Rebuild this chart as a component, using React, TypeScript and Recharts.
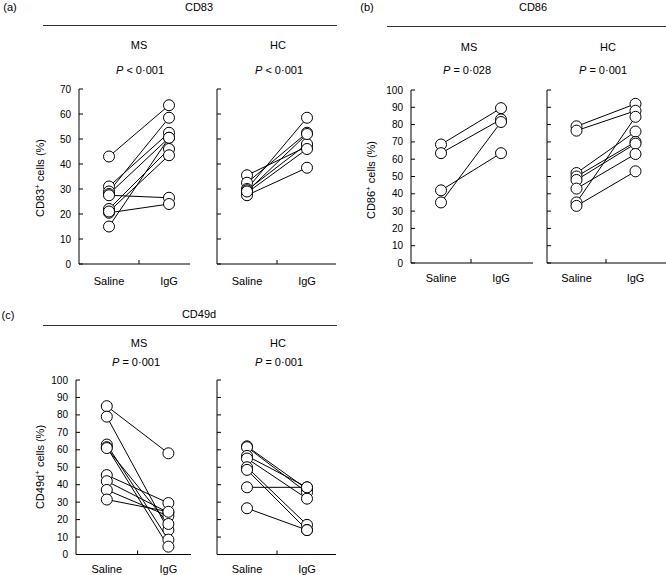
import React from 'react';
import { ComposedChart, Line, Scatter, XAxis, YAxis } from 'recharts';

const groups = ['Saline', 'IgG'];

const ticks70 = [0, 10, 20, 30, 40, 50, 60, 70];
const ticks100 = [0, 10, 20, 30, 40, 50, 60, 70, 80, 90, 100];

const cd83MsSaline = [43, 31, 29, 28, 27.5, 22, 20.5, 15, 21];
const cd83MsIgG = [63.5, 52.5, 58.5, 50.5, 26.5, 46, 24, 50.5, 43.5];

const cd83HcSaline = [35.5, 32.5, 30, 29.5, 28.5, 27.5, 29];
const cd83HcIgG = [47, 52.5, 58.5, 48, 46, 38.5, 52];

const cd86MsSaline = [68.5, 63.5, 42, 35];
const cd86MsIgG = [89.5, 83, 63.5, 81.5];

const cd86HcSaline = [79, 76.5, 52, 50, 48, 43, 35, 33];
const cd86HcIgG = [92, 88, 76, 70, 69, 63, 84.5, 53];

const cd49dMsSaline = [85, 79, 63, 61.5, 45.5, 42, 37, 31.5, 61];
const cd49dMsIgG = [58, 14, 8.5, 4.5, 29.5, 24, 22, 24.5, 17.5];

const cd49dHcSaline = [62, 61.5, 56.5, 55, 50, 48.5, 38.5, 26.5];
const cd49dHcIgG = [37.5, 35.5, 38.5, 32, 17, 14, 38.5, 14];

const FONT = '"Liberation Sans", Arial, Helvetica, sans-serif';

type PanelProps = {
  axisX: number;
  top: number;
  bottom: number;
  right: number;
  unit: number;
  yMax: number;
  yTicks: number[];
  showYLabels: boolean;
  saline: number[];
  igg: number[];
  labelDy: number;
};

const ML = 45;
const MT = 8;
const MB = 30;
const MR = 2;

function Panel(p: PanelProps) {
  const plotW = p.right - p.axisX;
  const plotH = p.bottom - p.top;
  const width = ML + plotW + MR;
  const height = MT + plotH + MB;
  const xMax = plotW / p.unit;
  const pairs = p.saline.map((s, i) => [
    { x: 1, y: s },
    { x: 3, y: p.igg[i] },
  ]);
  const allPoints = pairs.flat();

  const yTick = (props: any) => {
    const { x, y, payload } = props;
    return (
      <g>
        <line x1={x} x2={x + 4} y1={y} y2={y} stroke="#000" strokeWidth={1} />
        {p.showYLabels && (
          <text x={x - 8} y={y} textAnchor="end" dominantBaseline="central" fontSize={10} fill="#000" fontFamily={FONT}>
            {payload.value}
          </text>
        )}
      </g>
    );
  };

  const xTick = (props: any) => {
    const { x, y, payload } = props;
    if (payload.value === 2) {
      return <line x1={x} x2={x} y1={y} y2={y - 4} stroke="#000" strokeWidth={1} />;
    }
    const label = payload.value === 1 ? groups[0] : groups[1];
    return (
      <text x={x} y={y + p.labelDy} textAnchor="middle" fontSize={11} fill="#000" fontFamily={FONT}>
        {label}
      </text>
    );
  };

  return (
    <div style={{ position: 'absolute', left: p.axisX - ML, top: p.top - MT, width, height }}>
      <ComposedChart width={width} height={height} margin={{ top: MT, right: MR, bottom: 0, left: 0 }}>
        <XAxis
          type="number"
          dataKey="x"
          domain={[0, xMax]}
          ticks={[1, 2, 3]}
          interval={0}
          allowDataOverflow
          height={MB}
          tickSize={0}
          tickMargin={0}
          tickLine={false}
          axisLine={{ stroke: '#000', strokeWidth: 1 }}
          tick={xTick}
        />
        <YAxis
          type="number"
          dataKey="y"
          domain={[0, p.yMax]}
          ticks={p.yTicks}
          interval={0}
          allowDataOverflow
          width={ML}
          tickSize={0}
          tickMargin={0}
          tickLine={false}
          axisLine={{ stroke: '#000', strokeWidth: 1 }}
          tick={yTick}
        />
        {pairs.map((d, i) => (
          <Line
            key={i}
            data={d}
            dataKey="y"
            stroke="#000"
            strokeWidth={1}
            dot={false}
            activeDot={false}
            isAnimationActive={false}
          />
        ))}
        <Scatter
          data={allPoints}
          isAnimationActive={false}
          shape={(sp: any) => <circle cx={sp.cx} cy={sp.cy} r={5.5} fill="#fff" stroke="#000" strokeWidth={1} />}
        />
      </ComposedChart>
    </div>
  );
}

const txt = (x: number, y: number, content: React.ReactNode, size = 11) => (
  <div
    style={{
      position: 'absolute',
      left: x,
      top: y,
      transform: 'translate(-50%, -50%)',
      whiteSpace: 'nowrap',
      fontSize: size,
      lineHeight: 1,
      color: '#000',
    }}
  >
    {content}
  </div>
);

const hline = (x1: number, x2: number, y: number) => (
  <div style={{ position: 'absolute', left: x1, top: y, width: x2 - x1, height: 1, background: '#333' }} />
);

const ylabel = (x: number, y: number, marker: string) => (
  <div
    style={{
      position: 'absolute',
      left: x,
      top: y,
      transform: 'translate(-50%, -50%) rotate(-90deg)',
      whiteSpace: 'nowrap',
      fontSize: 11,
      lineHeight: 1,
    }}
  >
    {marker}
    <sup style={{ fontSize: 8 }}>+</sup> cells (%)
  </div>
);

const pLab = (rest: string) => (
  <span>
    <i>P</i> {rest}
  </span>
);

export default function App() {
  return (
    <div
      style={{
        position: 'absolute',
        left: 0,
        top: 0,
        width: 666,
        height: 575,
        background: '#fff',
        fontFamily: FONT,
        overflow: 'hidden',
      }}
    >
      {/* Panel (a) */}
      {txt(10, 7, '(a)')}
      {txt(199, 7, 'CD83')}
      {hline(43, 337, 25)}
      {txt(139, 45, 'MS')}
      {txt(278, 45, 'HC')}
      {txt(140, 70, pLab('< 0·001'))}
      {txt(279, 70, pLab('< 0·001'))}
      {ylabel(40, 178, 'CD83')}
      <Panel axisX={79} top={89} bottom={264} right={190} unit={30} yMax={70} yTicks={ticks70} showYLabels saline={cd83MsSaline} igg={cd83MsIgG} labelDy={21} />
      <Panel axisX={217} top={89} bottom={264} right={336} unit={30} yMax={70} yTicks={ticks70} showYLabels={false} saline={cd83HcSaline} igg={cd83HcIgG} labelDy={21} />

      {/* Panel (b) */}
      {txt(367, 7, '(b)')}
      {txt(533, 7, 'CD86')}
      {hline(387, 666, 26)}
      {txt(469, 47, 'MS')}
      {txt(608, 47, 'HC')}
      {txt(467, 70, pLab('= 0·028'))}
      {txt(603, 70, pLab('= 0·001'))}
      {ylabel(371, 180, 'CD86')}
      <Panel axisX={411} top={90} bottom={263} right={533} unit={30} yMax={100} yTicks={ticks100} showYLabels saline={cd86MsSaline} igg={cd86MsIgG} labelDy={19} />
      <Panel axisX={547} top={90} bottom={263} right={666} unit={29.5} yMax={100} yTicks={ticks100} showYLabels={false} saline={cd86HcSaline} igg={cd86HcIgG} labelDy={19} />

      {/* Panel (c) */}
      {txt(8, 315, '(c)')}
      {txt(199, 314, 'CD49d')}
      {hline(43, 337, 325)}
      {txt(139, 343, 'MS')}
      {txt(278, 343, 'HC')}
      {txt(136, 362, pLab('= 0·001'))}
      {txt(279, 362, pLab('= 0·001'))}
      {ylabel(40, 467, 'CD49d')}
      <Panel axisX={76} top={379.5} bottom={554} right={191} unit={30.8} yMax={100} yTicks={ticks100} showYLabels saline={cd49dMsSaline} igg={cd49dMsIgG} labelDy={18} />
      <Panel axisX={217} top={379.5} bottom={554} right={336} unit={30} yMax={100} yTicks={ticks100} showYLabels={false} saline={cd49dHcSaline} igg={cd49dHcIgG} labelDy={18} />
    </div>
  );
}
